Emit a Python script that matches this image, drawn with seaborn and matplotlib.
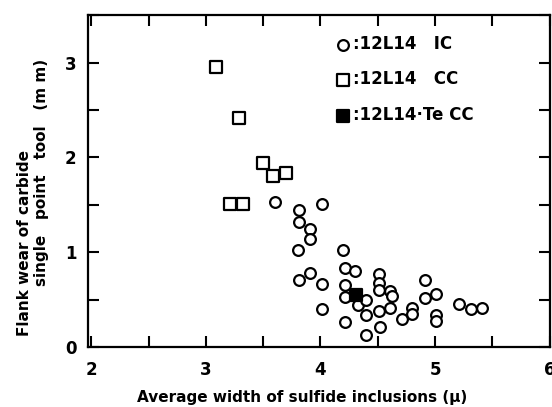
import matplotlib
matplotlib.use('Agg')
import matplotlib.pyplot as plt
import seaborn as sns
from matplotlib.ticker import MultipleLocator

# 12L14 IC (open circles)
ic_x = [3.60, 3.81, 4.01, 3.81, 3.91, 3.91, 3.80, 4.20, 4.21, 4.30,
        3.91, 3.81, 4.01, 4.21, 4.21, 4.33, 4.40, 4.40, 4.01, 4.21,
        4.40, 4.51, 4.51, 4.51, 4.61, 4.62, 4.51, 4.61, 4.52, 4.71,
        4.80, 4.80, 4.91, 4.91, 5.01, 5.01, 5.01, 5.21, 5.31, 5.41]
ic_y = [1.53, 1.45, 1.51, 1.32, 1.25, 1.14, 1.02, 1.02, 0.83, 0.80,
        0.78, 0.71, 0.67, 0.65, 0.53, 0.44, 0.50, 0.34, 0.40, 0.27,
        0.13, 0.77, 0.68, 0.60, 0.59, 0.54, 0.38, 0.41, 0.21, 0.30,
        0.41, 0.35, 0.71, 0.52, 0.56, 0.34, 0.28, 0.46, 0.40, 0.41]

# 12L14 CC (open squares)
cc_x = [3.09, 3.29, 3.50, 3.59, 3.70, 3.21, 3.32]
cc_y = [2.95, 2.42, 1.94, 1.80, 1.84, 1.51, 1.51]

# 12L14-Te CC (filled square)
te_x = [4.31]
te_y = [0.55]

x_ticks = [2, 3, 4, 5, 6]
y_ticks = [0, 1, 2, 3]

sns.set_style('ticks')
plt.rcParams['font.family'] = ['DejaVu Sans']
plt.rcParams['font.weight'] = 'bold'
plt.rcParams.update({'text.color': 'black', 'axes.labelcolor': 'black',
                     'xtick.color': 'black', 'ytick.color': 'black',
                     'axes.edgecolor': 'black'})

fig = plt.figure(figsize=(5.52, 4.07), dpi=100)
ax = fig.add_axes([0.159, 0.147, 0.837, 0.816])

sns.scatterplot(x=ic_x, y=ic_y, marker='o', s=60, facecolor='white',
                edgecolor='black', linewidth=1.6, label=':12L14   IC', ax=ax, zorder=3)
sns.scatterplot(x=cc_x, y=cc_y, marker='s', s=70, facecolor='white',
                edgecolor='black', linewidth=1.6, label=':12L14   CC', ax=ax, zorder=3)
sns.scatterplot(x=te_x, y=te_y, marker='s', s=80, facecolor='black',
                edgecolor='black', linewidth=1.6, label=':12L14\u00b7Te CC', ax=ax, zorder=4)

ax.set_xlim(1.97, 5.99)
ax.set_ylim(0, 3.5)
ax.set_xticks(x_ticks)
ax.set_yticks(y_ticks)
ax.xaxis.set_minor_locator(MultipleLocator(0.5))
ax.yaxis.set_minor_locator(MultipleLocator(0.5))
ax.tick_params(which='both', direction='in', top=True, right=True,
               length=8, width=1.5, labelsize=12)
ax.tick_params(axis='x', pad=10)
ax.tick_params(axis='y', pad=8)

for sp in ax.spines.values():
    sp.set_visible(True)
    sp.set_linewidth(1.6)

ax.set_xlabel('')
ax.set_ylabel('')
fig.text(0.547, 0.024, 'Average width of sulfide inclusions (\u03bc)',
         fontsize=11, fontweight='bold', ha='center', va='center')
fig.text(0.045, 0.403, 'Flank wear of carbide', rotation=90,
         fontsize=11, fontweight='bold', ha='center', va='center')
fig.text(0.076, 0.577, 'single   point   tool   (m m)', rotation=90,
         fontsize=11, fontweight='bold', ha='center', va='center')

ax.legend(loc='upper left', bbox_to_anchor=(0.535, 0.94), frameon=False,
          handletextpad=0.1, handlelength=1.0, labelspacing=1.05,
          fontsize=12, borderaxespad=0, borderpad=0)

fig.savefig('out.png', dpi=100)
